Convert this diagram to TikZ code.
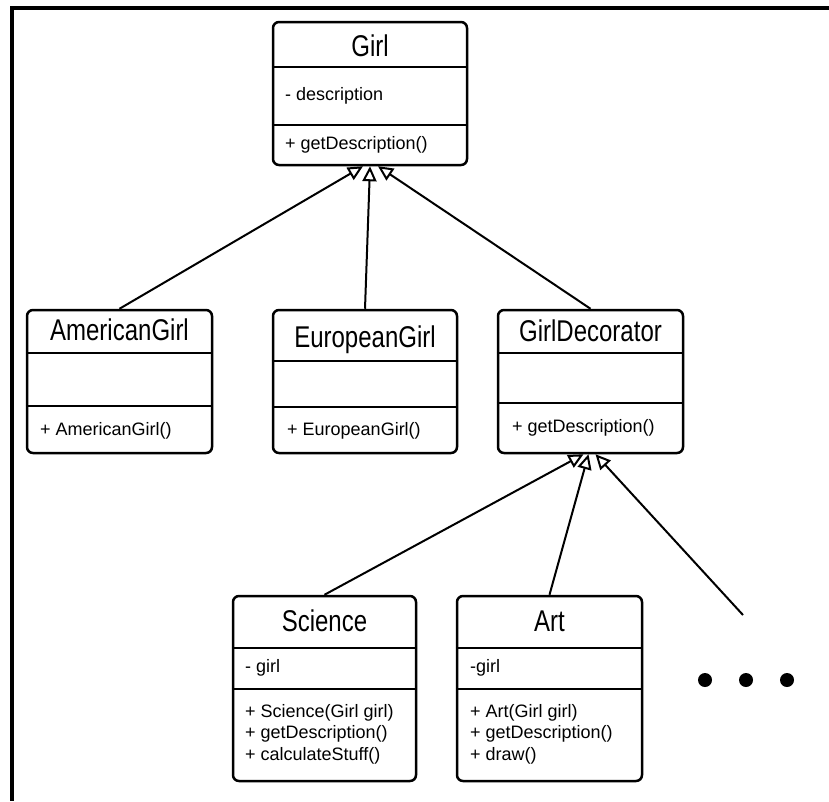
\documentclass[tikz,border=0pt]{standalone}
\usepackage{fontspec}
\setmainfont{Liberation Sans}
\usetikzlibrary{arrows.meta,positioning,fit,calc}

\newcommand\tallname[1]{\scalebox{1}[1.25]{#1}}

\tikzset{
  classbox/.style={draw=black, line width=2.5pt, rounded corners=6pt, inner sep=0pt},
  divider/.style={line width=2.5pt},
  classname/.style={anchor=base, inner sep=0pt, font=\fontsize{24}{30}\selectfont},
  member/.style={anchor=base west, inner sep=0pt, font=\fontsize{18}{22}\selectfont},
  inherit/.style={line width=2pt, -{Triangle[open, length=15pt, width=14pt]}},
}

\begin{document}
\begin{tikzpicture}[x=1pt, y=-1pt]
  \useasboundingbox (0,0) rectangle (829,801);
  \fill (10,6) rectangle (829,10);
  \fill (10,6) rectangle (14,801);

  % base class
  \node[classbox, fit={(273,22) (467,165)}] (girl) {};
  \draw[divider] (girl.west |- 0,67) -- (girl.east |- 0,67);
  \draw[divider] (girl.west |- 0,125) -- (girl.east |- 0,125);
  \node[classname] (girl-name) at (370,56) {\tallname{Girl}};
  \node[member] (girl-attr) at (285,100) {- description};
  \node[member] (girl-op) at (285,149) {+ getDescription()};

  % concrete girls
  \node[classbox, fit={(27,310) (212,453)}] (american) {};
  \draw[divider] (american.west |- 0,353) -- (american.east |- 0,353);
  \draw[divider] (american.west |- 0,406) -- (american.east |- 0,406);
  \node[classname] (american-name) at (119.5,340) {\tallname{AmericanGirl}};
  \node[member] (american-op) at (40,435) {+ AmericanGirl()};

  \node[classbox, fit={(273,310) (457,453)}] (european) {};
  \draw[divider] (european.west |- 0,361) -- (european.east |- 0,361);
  \draw[divider] (european.west |- 0,407) -- (european.east |- 0,407);
  \node[classname] (european-name) at (365,347) {\tallname{EuropeanGirl}};
  \node[member] (european-op) at (287,435) {+ EuropeanGirl()};

  % decorator
  \node[classbox, fit={(498,310) (683,453)}] (decorator) {};
  \draw[divider] (decorator.west |- 0,353) -- (decorator.east |- 0,353);
  \draw[divider] (decorator.west |- 0,403) -- (decorator.east |- 0,403);
  \node[classname] (decorator-name) at (590.5,341) {\tallname{GirlDecorator}};
  \node[member] (decorator-op) at (512,432) {+ getDescription()};

  % concrete decorators
  \node[classbox, fit={(233,596) (416,781)}] (science) {};
  \draw[divider] (science.west |- 0,648) -- (science.east |- 0,648);
  \draw[divider] (science.west |- 0,689) -- (science.east |- 0,689);
  \node[classname] (science-name) at (324.5,631) {\tallname{Science}};
  \node[member] (science-attr) at (245,672) {- girl};
  \node[member] (science-op1) at (245,717) {+ Science(Girl girl)};
  \node[member] (science-op2) at (245,738) {+ getDescription()};
  \node[member] (science-op3) at (245,760) {+ calculateStuff()};

  \node[classbox, fit={(457,596) (642,781)}] (art) {};
  \draw[divider] (art.west |- 0,648) -- (art.east |- 0,648);
  \draw[divider] (art.west |- 0,689) -- (art.east |- 0,689);
  \node[classname] (art-name) at (549.5,631) {\tallname{Art}};
  \node[member] (art-attr) at (470,672) {-girl};
  \node[member] (art-op1) at (470,717) {+ Art(Girl girl)};
  \node[member] (art-op2) at (470,738) {+ getDescription()};
  \node[member] (art-op3) at (470,760) {+ draw()};

  % inheritance
  \draw[inherit] (american.north) -- ([xshift=-7pt]girl.south);
  \draw[inherit] (european.north) -- (girl.south);
  \draw[inherit] (decorator.north) -- ([xshift=8pt]girl.south);
  \draw[inherit] (science.north) -- ([xshift=-7pt]decorator.south);
  \draw[inherit] (art.north) -- ([xshift=-2pt]decorator.south);
  \coordinate (more) at (743,615);
  \draw[inherit] (more) -- ([xshift=5pt]decorator.south);

  \foreach \x in {705,746,787} \fill (\x,680) circle (7pt);
\end{tikzpicture}
\end{document}
